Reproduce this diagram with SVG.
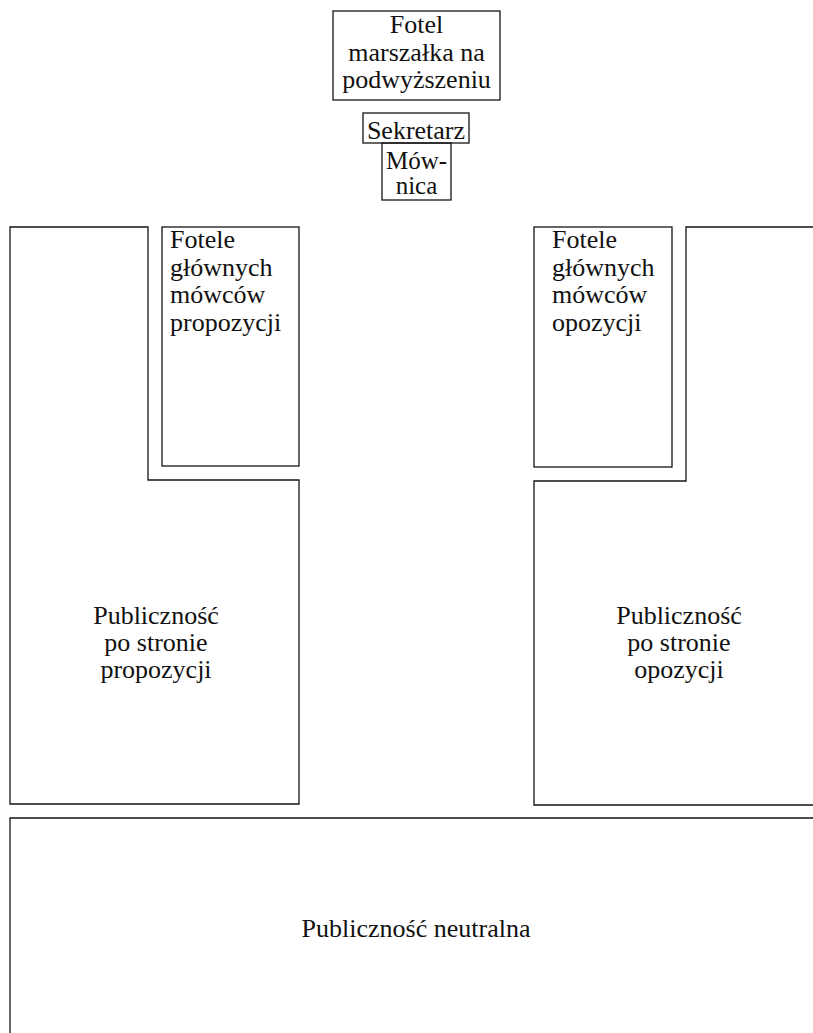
<svg xmlns="http://www.w3.org/2000/svg" width="813" height="1033" viewBox="0 0 813 1033">
<style>
.b{fill:none;stroke:#151515;stroke-width:1.3}
.t{font-family:"Liberation Serif","Times New Roman",serif;font-size:26px;fill:#111}
.s{font-size:25px}
.c{text-anchor:middle}
</style>
<rect width="813" height="1033" fill="#fff"/>
<g id="fotel-marszalka">
<rect class="b" x="333" y="11" width="167" height="89"/>
<text class="t c" x="416.5" y="33">Fotel</text>
<text class="t c" x="416.5" y="61">marszałka na</text>
<text class="t c" x="416.5" y="88">podwyższeniu</text>
</g>
<g id="sekretarz">
<rect class="b" x="363" y="113" width="106" height="30"/>
<text class="t c" x="416" y="139">Sekretarz</text>
</g>
<g id="mownica">
<rect class="b" x="382" y="143" width="69" height="57"/>
<text class="t s c" x="416.5" y="169">Mów-</text>
<text class="t s c" x="416.5" y="194">nica</text>
</g>
<g id="fotele-propozycji">
<rect class="b" x="162" y="227" width="137" height="239"/>
<text class="t" x="170" y="248">Fotele</text>
<text class="t" x="170" y="276">głównych</text>
<text class="t" x="170" y="303">mówców</text>
<text class="t" x="170" y="331">propozycji</text>
</g>
<g id="publicznosc-propozycji">
<path class="b" d="M10,227 H148 V480 H299 V804 H10 Z"/>
<text class="t c" x="156" y="624">Publiczność</text>
<text class="t c" x="156" y="651">po stronie</text>
<text class="t c" x="156" y="678">propozycji</text>
</g>
<g id="fotele-opozycji">
<rect class="b" x="534" y="227" width="138" height="240"/>
<text class="t" x="552" y="248">Fotele</text>
<text class="t" x="552" y="276">głównych</text>
<text class="t" x="552" y="303">mówców</text>
<text class="t" x="552" y="331">opozycji</text>
</g>
<g id="publicznosc-opozycji">
<path class="b" d="M823,227 H686 V481 H534 V805 H823"/>
<text class="t c" x="679" y="624">Publiczność</text>
<text class="t c" x="679" y="651">po stronie</text>
<text class="t c" x="679" y="678">opozycji</text>
</g>
<g id="publicznosc-neutralna">
<path class="b" d="M823,818 H10 V1045"/>
<text class="t c" x="416" y="937">Publiczność neutralna</text>
</g>
<g id="connectors"/>
</svg>
